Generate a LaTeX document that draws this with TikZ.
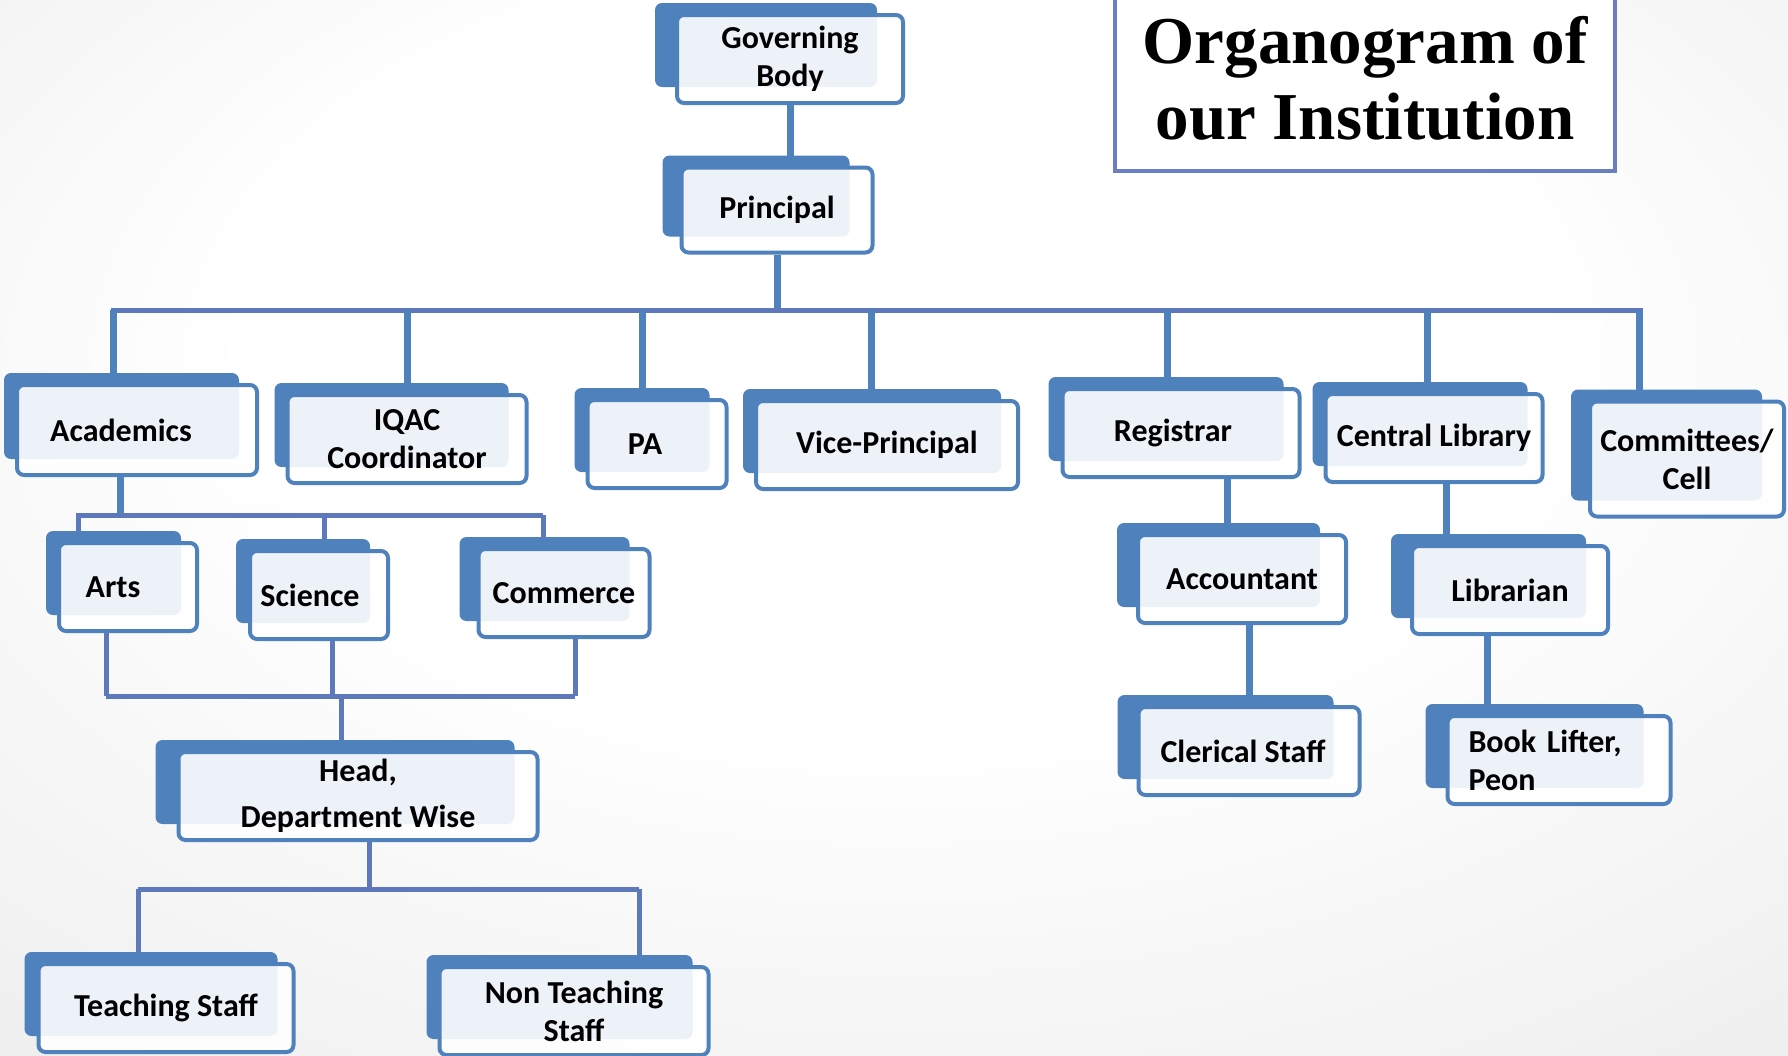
\documentclass[tikz,border=0pt]{standalone}
\usepackage{fontspec}
\newfontfamily\cardfont{Carlito}
\newfontfamily\titlefont{Liberation Serif}
\usetikzlibrary{calc,backgrounds}
\definecolor{orgblue}{HTML}{4F81BD}
\definecolor{busblue}{HTML}{5E78BC}
\definecolor{frameblue}{HTML}{6A7EC0}
\pgfdeclareradialshading{pageshade}{\pgfpoint{0bp}{12bp}}{color(0bp)=(white); color(18bp)=(white); color(60bp)=(black!13)}
\begin{document}
\begin{tikzpicture}[x=1pt, y=-1pt,
cardnode/.style={rectangle, rounded corners=7pt, draw=orgblue, line width=4pt, fill=white, fill opacity=0.9, text opacity=1, minimum height=88pt, inner sep=0pt, align=center, font=\cardfont\bfseries\fontsize{32}{38}\selectfont},
cardback/.style={fill=orgblue, rounded corners=7pt},
link/.style={draw=orgblue, line width=7pt},
bus/.style={draw=busblue, line width=5pt},
titlebox/.style={draw=frameblue, line width=4pt, fill=white},
]
\useasboundingbox (0,0) rectangle (1788,1055);

%Title
\draw[titlebox] (1115,-10) rectangle (1615,171);
\node[font=\titlefont\bfseries\fontsize{67}{76}\selectfont, align=center] (title) at (1365,78) {Organogram of\\our Institution};

%Nodes
\node[cardnode, minimum width=226pt] (gov) at (790,59) {Governing\\Body};
\node[cardnode, minimum width=191pt, minimum height=85pt] (prin) at (777,210) {Principal};
\node[cardnode, minimum width=240pt, minimum height=90pt] (acad) at (137,430) {\hspace*{-32pt}Academics};
\node[cardnode, minimum width=239pt] (iqac) at (407,439) {IQAC\\Coordinator};
\node[cardnode, minimum width=139pt] (pa) at (657,444) {\hspace*{-24pt}PA};
\node[cardnode, minimum width=262pt] (vp) at (887,445) {Vice-Principal};
\node[cardnode, minimum width=237pt] (reg) at (1181,433) {\hspace*{-16pt}Registrar};
\node[cardnode, minimum width=217pt] (lib) at (1434,438) {Central Library};
\node[cardnode, minimum width=194pt, minimum height=115pt] (comm) at (1687,459) {Committees/\\Cell};
\node[cardnode, minimum width=138pt] (arts) at (128,587) {\hspace*{-30pt}Arts};
\node[cardnode, minimum width=138pt] (sci) at (319,595) {\hspace*{-18pt}Science};
\node[cardnode, minimum width=171pt] (com) at (564,593) {Commerce};
\node[cardnode, minimum width=359pt, font=\cardfont\bfseries\fontsize{32}{46}\selectfont] (head) at (358,796) {Head,\\Department Wise};
\node[cardnode, minimum width=255pt] (teach) at (166,1008) {Teaching Staff};
\node[cardnode, minimum width=269pt] (nonteach) at (574,1011) {Non Teaching\\Staff};
\node[cardnode, minimum width=208pt] (acc) at (1242,579) {Accountant};
\node[cardnode, minimum width=221pt] (cler) at (1249,751) {\hspace*{-12pt}Clerical Staff};
\node[cardnode, minimum width=196pt] (libn) at (1510,590) {Librarian};
\node[cardnode, minimum width=223pt, text width=181pt, align=left] (book) at (1559,760) {Book Lifter,\\Peon};

\begin{scope}[on background layer]
\shade[shading=pageshade] (0,0) rectangle (1788,1055);

%Lines
\draw[link] (gov.south) -- (gov.south |- prin.north);
\coordinate (mainL) at (111,310);
\coordinate (mainR) at (1643,310);
\draw[link] (prin.south) -- (prin.south |- mainL);
\draw[bus] (mainL) -- (mainR);
\foreach \x/\n in {113/acad, 407/iqac, 642/pa, 871/vp, 1167/reg, 1427/lib, 1639/comm}
  \draw[link] (\x,310) -- (\x,310 |- \n.north);

\coordinate (acadL) at (76,515);
\coordinate (acadR) at (543,515);
\draw[link] ($(acad.south)+(-17,0)$) -- ($(acad.south |- acadL)+(-17,0)$);
\draw[bus] (acadL) -- (acadR);
\foreach \x/\n in {78/arts, 324/sci, 543/com}
  \draw[bus] (\x,515) -- (\x,515 |- \n.north);

\coordinate (deptL) at (106,696);
\coordinate (deptR) at (575,696);
\foreach \x/\n in {106/arts, 332/sci, 575/com}
  \draw[bus] (\x,696) -- (\x,696 |- \n.south);
\draw[bus] (deptL) -- (deptR);
\draw[bus] (341,696) -- (341,696 |- head.north);

\coordinate (staffL) at (138,889);
\coordinate (staffR) at (639,889);
\draw[bus] ($(head.south)+(11,0)$) -- ($(head.south |- staffL)+(11,0)$);
\draw[bus] (staffL) -- (staffR);
\draw[bus] (staffL) -- (staffL |- teach.north);
\draw[bus] (staffR) -- (staffR |- nonteach.north);

\draw[link] ($(acc.north)+(-15,0)$) -- ($(acc.north |- reg.south)+(-15,0)$);
\draw[link] (cler.north) -- (cler.north |- acc.south);
\draw[link] ($(lib.south)+(12,0)$) -- ($(lib.south |- libn.north)+(12,0)$);
\draw[link] ($(libn.south)+(-23,0)$) -- ($(libn.south |- book.north)+(-23,0)$);

%Back cards
\foreach \n/\lft/\rgt in {gov/20/28, prin/17/25, acad/11/20, iqac/11/20, pa/11/19, vp/11/19, reg/12/18, lib/11/17, comm/17/24, arts/11/18, sci/12/20, com/17/22, head/21/25, teach/12/18, nonteach/11/18, acc/19/28, cler/19/28, libn/19/24, book/20/29}
  \fill[cardback] ($(\n.north west)+(-\lft,-10)$) rectangle ($(\n.south east)+(-\rgt,-18)$);
\end{scope}
\end{tikzpicture}
\end{document}
